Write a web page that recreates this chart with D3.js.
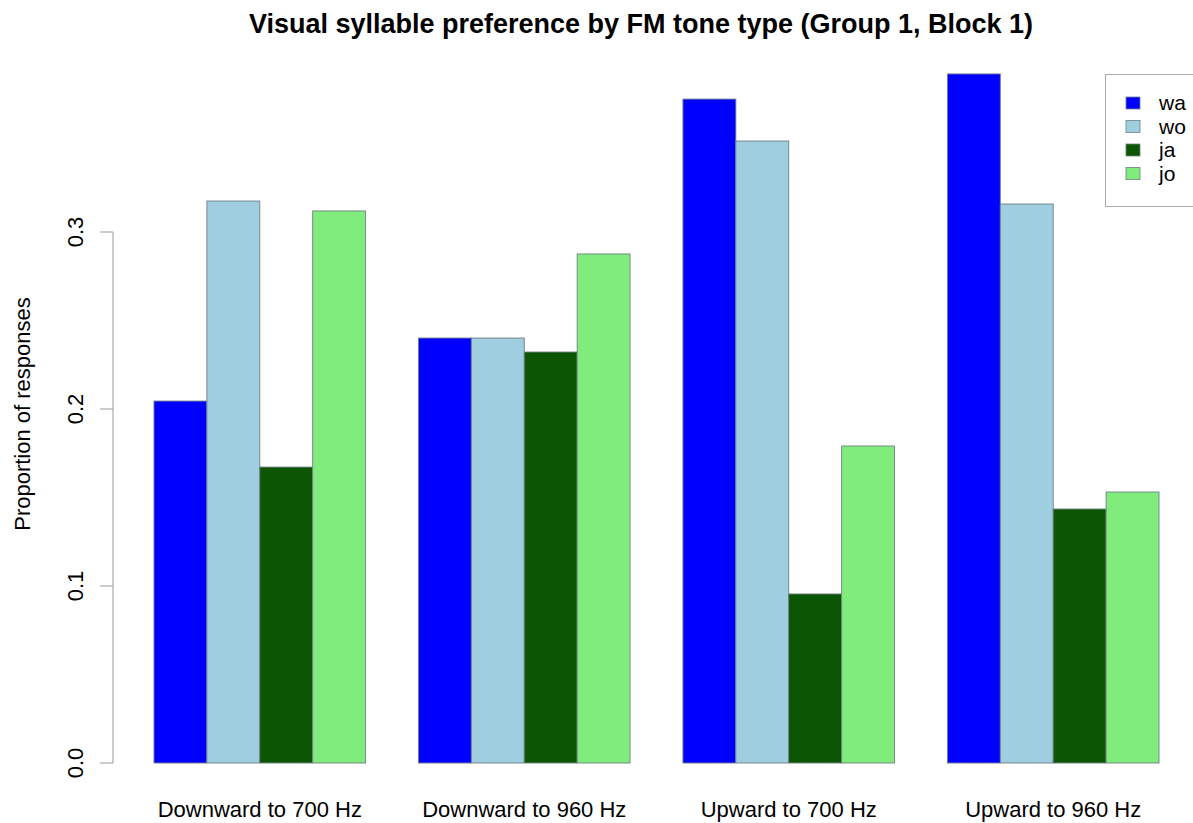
<!DOCTYPE html>
<html><head><meta charset="utf-8">
<script src="https://cdn.jsdelivr.net/npm/d3@7"></script>
<style>body{margin:0;background:#fff}svg{display:block;font-family:"Liberation Sans",Arial,sans-serif}</style>
</head><body>
<svg id="chart" width="1193" height="823"></svg>
<script>
const categories = ["Downward to 700 Hz","Downward to 960 Hz","Upward to 700 Hz","Upward to 960 Hz"];
const seriesNames = ["wa","wo","ja","jo"];
const wa = [0.2045,0.2401,0.3751,0.3893];
const wo = [0.3175,0.2401,0.3514,0.3158];
const ja = [0.1672,0.2322,0.0955,0.1435];
const jo = [0.3119,0.2876,0.1791,0.1531];
const yTicks = [0.0,0.1,0.2,0.3];
const colors = ["#0000FF","#9ECEDF","#0B5503","#80EC7C"];
const seriesValues = [wa,wo,ja,jo];

const svg = d3.select("#chart");
const y = d3.scaleLinear().domain([0,0.1]).range([763,586]);
const xu = d3.scaleLinear().domain([0,20]).range([101.1,1159]);

const g = svg.append("g");
categories.forEach((c,ci)=>{
  seriesNames.forEach((s,si)=>{
    const u0 = ci*5 + 1 + si;
    const v = seriesValues[si][ci];
    g.append("rect")
      .attr("x", xu(u0)).attr("width", xu(u0+1)-xu(u0))
      .attr("y", y(v)).attr("height", y(0)-y(v))
      .attr("fill", colors[si]).attr("stroke","#6f7f86").attr("stroke-width",0.9);
  });
  svg.append("text").attr("x", (xu(ci*5+1)+xu(ci*5+5))/2).attr("y", 817)
    .attr("text-anchor","middle").attr("font-size",22).attr("fill","#000").text(c);
});

const ax = svg.append("g");
ax.append("line").attr("x1",113).attr("x2",113).attr("y1",y(0)).attr("y2",y(0.3)).attr("stroke","#aaa").attr("stroke-width",1.2);
yTicks.forEach(t=>{
  ax.append("line").attr("x1",100).attr("x2",113).attr("y1",y(t)).attr("y2",y(t)).attr("stroke","#aaa").attr("stroke-width",1.2);
  ax.append("text").attr("transform",`translate(83,${y(t)}) rotate(-90)`).attr("text-anchor","middle")
    .attr("font-size",22).attr("fill","#000").text(t.toFixed(1));
});
svg.append("text").attr("transform","translate(30,414) rotate(-90)").attr("text-anchor","middle")
  .attr("font-size",22).attr("fill","#000").text("Proportion of responses");

svg.append("text").attr("x",641).attr("y",33).attr("text-anchor","middle").attr("font-size",27)
  .attr("font-weight","bold").attr("fill","#000").text("Visual syllable preference by FM tone type (Group 1, Block 1)");

const lg = svg.append("g");
lg.append("rect").attr("x",1105.5).attr("y",74.5).attr("width",120).attr("height",132).attr("fill","#fff").attr("stroke","#aaa");
seriesNames.forEach((s,i)=>{
  const cy = 103 + i*23.5;
  lg.append("rect").attr("x",1126).attr("y",cy-6).attr("width",14).attr("height",12).attr("fill",colors[i]).attr("stroke","#6f7f86").attr("stroke-width",0.8);
  lg.append("text").attr("x",1159).attr("y",cy+7).attr("font-size",21).attr("fill","#000").text(s);
});
</script>
</body></html>
